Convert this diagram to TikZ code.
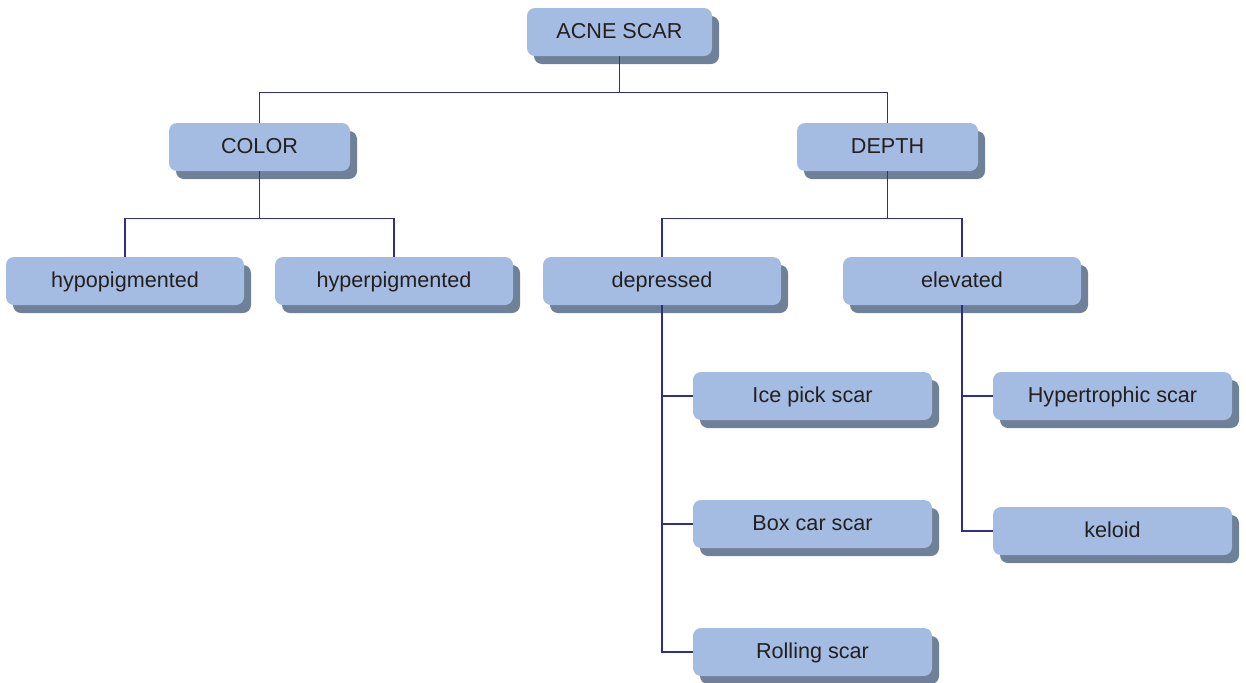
\documentclass[tikz,border=0pt]{standalone}
\usepackage{fontspec}
\setmainfont{Liberation Sans}
\usetikzlibrary{shadows}
\definecolor{boxfill}{HTML}{A4BCE1}
\definecolor{boxshade}{HTML}{6F8099}
\definecolor{linkblue}{HTML}{2E2E8E}
\definecolor{inkgray}{HTML}{231F20}
\begin{document}
\begin{tikzpicture}[x=0.5pt, y=-0.5pt, every node/.style={font=\fontsize{10.8}{13}\selectfont, text=inkgray},
    box/.style={rectangle, rounded corners=4pt, fill=boxfill, inner sep=0pt, minimum height=24pt,
      text height=7.7pt, text depth=1.5pt,
      drop shadow={shadow xshift=3.5pt, shadow yshift=-4pt, fill=boxshade, opacity=1}},
    link/.style={draw=linkblue, line width=0.65pt}]
  \useasboundingbox (0,0) rectangle (1246,682);

  \node[box, minimum width=92.5pt] (acne) at (619.5,32) {ACNE SCAR};

  \node[box, minimum width=90.5pt] (color) at (259.5,147) {COLOR};
  \node[box, minimum width=90.5pt] (depth) at (887.5,147) {DEPTH};

  \node[box, minimum width=119pt] (hypo) at (125,281) {hypopigmented};
  \node[box, minimum width=119pt] (hyper) at (394,281) {hyperpigmented};
  \node[box, minimum width=119pt] (depressed) at (662,281) {depressed};
  \node[box, minimum width=119pt] (elevated) at (962,281) {elevated};

  \node[box, minimum width=119.5pt] (icepick) at (812.5,396) {Ice pick scar};
  \node[box, minimum width=119.5pt] (boxcar) at (812.5,524) {Box car scar};
  \node[box, minimum width=119.5pt] (rolling) at (812.5,652) {Rolling scar};
  \node[box, minimum width=119.5pt] (hypertro) at (1112.5,396) {Hypertrophic scar};
  \node[box, minimum width=119.5pt] (keloid) at (1112.5,531) {keloid};

  \draw[link] (acne.south) -- ++(0,36) -| (color.north);
  \draw[link] (acne.south) -- ++(0,36) -| (depth.north);
  \draw[link] (color.south) -- ++(0,47) -| (hypo.north);
  \draw[link] (color.south) -- ++(0,47) -| (hyper.north);
  \draw[link] (depth.south) -- ++(0,47) -| (depressed.north);
  \draw[link] (depth.south) -- ++(0,47) -| (elevated.north);

  \draw[link] (depressed.south) |- (icepick.west);
  \draw[link] (depressed.south) |- (boxcar.west);
  \draw[link] (depressed.south) |- (rolling.west);
  \draw[link] (elevated.south) |- (hypertro.west);
  \draw[link] (elevated.south) |- (keloid.west);
\end{tikzpicture}
\end{document}
